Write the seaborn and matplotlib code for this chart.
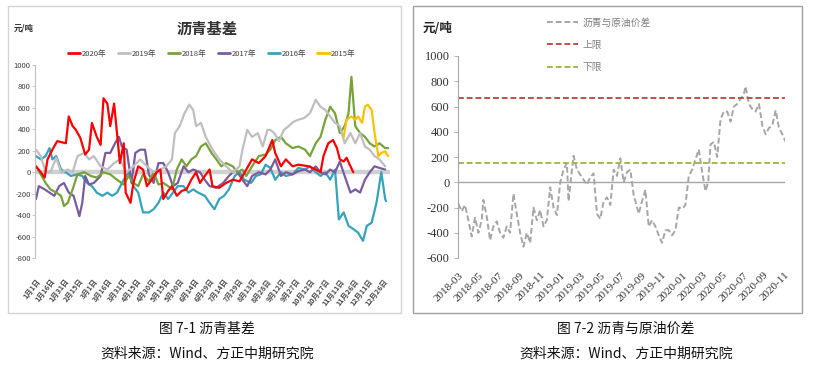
import pandas as pd
import matplotlib
matplotlib.use('Agg')
import matplotlib.pyplot as plt
import matplotlib.dates as mdates
from matplotlib.lines import Line2D
from matplotlib.patches import Rectangle
import seaborn as sns

# ---- left chart: asphalt basis by year (day of year -> yuan/ton) ----
red_day = [0, 5, 9, 12, 17, 22, 31, 34, 38, 41, 46, 51, 55, 58, 63, 67, 70, 74, 77, 81,
           84, 87, 91, 93, 98, 101, 106, 111, 115, 120, 125, 129, 132, 137, 141, 146, 151, 156, 161, 166,
           170, 175, 180, 183, 190, 197, 204, 211, 218, 224, 231, 238, 245, 248, 254, 259, 266, 272, 283, 290,
           295, 298, 303, 308, 312, 315, 319, 322, 326, 329]
red_val = [55, 0, -50, 120, 210, 290, 270, 520, 430, 400, 320, 165, 210, 460, 330, 255, 690, 640, 430, 640,
           365, 85, 270, -190, -285, -100, 55, 25, -130, -70, 0, 25, -250, -175, -130, -220, -175, -160, -70, 0,
           -100, -35, 25, -130, -145, -100, -70, -85, 25, 120, 85, 150, 300, 180, 55, 120, 55, 70, 55, 25,
           0, 150, 270, 300, 225, 120, 100, 135, 55, 0]

gray_day = [0, 5, 10, 15, 21, 26, 33, 38, 43, 50, 55, 60, 67, 74, 81, 87, 94, 101, 108, 115,
            122, 129, 135, 141, 144, 149, 154, 159, 163, 166, 171, 176, 183, 190, 197, 204, 211, 214, 219, 224,
            230, 235, 240, 243, 247, 252, 257, 262, 267, 272, 278, 284, 290, 295, 300, 305, 310, 315, 320, 326,
            331, 336, 341, 346, 351, 356, 362]
gray_val = [210, 150, 0, 0, 135, 0, 25, 0, 150, 180, 120, 150, 55, 25, 85, 120, 0, 55, 120, 55,
            0, 25, 55, 120, 365, 430, 550, 630, 580, 430, 460, 330, 210, 120, 55, 0, 55, 210, 395, 330,
            365, 240, 395, 395, 365, 290, 395, 430, 470, 490, 505, 550, 675, 610, 580, 520, 460, 430, 270, 365,
            270, 365, 240, 210, 150, 120, 55]

green_day = [0, 5, 10, 15, 21, 26, 29, 33, 38, 43, 50, 57, 63, 70, 77, 84, 91, 96, 101, 106,
             111, 117, 122, 127, 132, 137, 141, 146, 151, 156, 161, 166, 171, 176, 182, 187, 192, 197, 204, 209,
             214, 218, 224, 231, 238, 243, 248, 254, 259, 266, 272, 279, 284, 290, 295, 300, 305, 310, 315, 320,
             324, 327, 331, 336, 341, 346, 351, 356, 362, 365]
green_val = [55, -20, -100, -160, -190, -220, -315, -285, -160, -20, 0, -35, -50, 0, -20, -70, -115, -35, -100, -130,
             -20, -85, 0, -115, -100, -130, -160, 25, 120, 55, 120, 150, 240, 270, 180, 120, 55, 85, 55, 0,
             25, -35, 55, 150, 165, 210, 300, 330, 270, 225, 240, 210, 150, 270, 330, 490, 610, 550, 365, 430,
             550, 890, 430, 365, 330, 270, 240, 270, 225, 225]

purple_day = [0, 3, 9, 14, 19, 24, 29, 34, 39, 45, 48, 51, 55, 60, 67, 72, 77, 82, 86, 89,
              94, 99, 103, 108, 113, 117, 122, 127, 132, 137, 142, 147, 153, 158, 163, 170, 175, 180, 187, 194,
              200, 207, 214, 219, 224, 231, 238, 243, 248, 254, 259, 266, 272, 279, 284, 290, 295, 300, 305, 310,
              315, 320, 326, 331, 336, 341, 346, 351, 356, 362]
purple_val = [-250, -130, -160, -190, -220, -130, -100, -190, -220, -410, -285, -35, -115, -100, -35, 180, 180, 270, 330, 240,
              210, -100, 180, 210, 210, -20, -100, 85, 85, 0, -130, -100, 55, 0, 25, 0, -70, -130, -145, -100,
              -35, 25, -70, -130, -35, 0, -20, 25, 120, -35, 0, -20, 10, 25, 0, 55, 0, -20, 25, 0,
              100, -35, -190, -160, -190, -70, 0, 55, 40, 25]

teal_day = [0, 5, 10, 14, 17, 21, 26, 31, 36, 43, 48, 53, 58, 63, 69, 74, 79, 84, 91, 96,
            101, 106, 111, 117, 122, 127, 132, 137, 142, 147, 153, 158, 163, 168, 175, 180, 185, 190, 195, 200,
            206, 211, 216, 223, 228, 233, 238, 243, 248, 254, 259, 266, 272, 279, 284, 290, 295, 300, 305, 310,
            314, 319, 324, 329, 334, 339, 343, 348, 353, 358, 362, 363]
teal_val = [150, 120, 150, 225, 120, 150, 25, 0, -35, -20, -35, -100, -130, -190, -220, -190, -220, -190, -70, 0,
            -130, -190, -375, -375, -345, -285, -190, -250, -190, -130, -130, -190, -160, -190, -220, -285, -345, -250, -220, -160,
            -35, 0, -70, -100, -35, -20, 70, 40, -70, 0, -35, -20, 40, 25, 55, 0, -35, 0, -70, 25,
            -440, -375, -500, -530, -565, -640, -500, -470, -285, 0, -250, -270]

yellow_day = [319, 322, 327, 331, 334, 338, 341, 344, 348, 351, 355, 358, 362, 365]
yellow_val = [330, 490, 520, 490, 520, 460, 610, 630, 580, 365, 150, 180, 195, 150]

years = ['2020年', '2019年', '2018年', '2017年', '2016年', '2015年']
year_colors = ['#ff0000', '#bfbfbf', '#77a33a', '#7b5ba0', '#35a3bd', '#ffc000']

left_ticklabels = ['1月1日', '1月16日', '1月31日', '2月15日', '3月1日', '3月16日', '3月31日', '4月15日',
                   '4月30日', '5月15日', '5月30日', '6月14日', '6月29日', '7月14日', '7月29日', '8月13日',
                   '8月28日', '9月12日', '9月27日', '10月12日', '10月27日', '11月11日', '11月26日',
                   '12月11日', '12月26日']
left_tickdays = [15 * i for i in range(len(left_ticklabels))]

# ---- right chart: asphalt vs crude spread (days since 2018-03-01) ----
spread_day = [0, 10, 20, 30, 40, 50, 60, 70, 75, 85, 95, 105, 115, 125, 135, 145, 155, 165, 175, 185,
              195, 205, 215, 225, 235, 245, 255, 265, 275, 285, 295, 305, 315, 325, 330, 338, 345, 355, 365, 375,
              385, 395, 405, 415, 425, 435, 445, 455, 465, 475, 485, 495, 505, 515, 525, 540, 550, 560, 570, 580,
              590, 600, 610, 620, 630, 640, 650, 660, 670, 680, 690, 700, 710, 720, 730, 740, 748, 755, 765, 775,
              785, 795, 805, 815, 825, 835, 845, 855, 860, 870, 880, 890, 900, 910, 920, 930, 940, 950, 960, 970,
              980]
spread_val = [-170, -230, -180, -300, -430, -280, -400, -300, -140, -270, -460, -350, -310, -400, -440, -350, -400, -90, -250, -400,
              -510, -400, -480, -200, -300, -220, -350, -300, -40, -200, -260, 0, 100, 150, -150, 50, 210, 100, 60, 20,
              -20, 40, 70, -250, -290, -150, -120, -180, 100, 50, 190, 0, 80, 100, -100, -250, -150, -60, -350, -300,
              -350, -420, -480, -380, -380, -420, -380, -200, -210, -180, 50, 100, 180, 260, 80, -70, 0, 300, 320, 200,
              500, 560, 560, 480, 600, 620, 660, 700, 760, 620, 580, 560, 620, 450, 380, 430, 450, 570, 430, 380,
              320]
upper_limit = 665
lower_limit = 155
spread_start = '2018-03-01'

sns.set_theme(style='white')
plt.rcParams['font.family'] = ['Noto Sans CJK SC', 'DejaVu Sans']
plt.rcParams['axes.unicode_minus'] = False

W, H = 817, 376
fig = plt.figure(figsize=(W / 100, H / 100), dpi=100)

# panel frames
fig.add_artist(Rectangle((8 / W, 1 - 313 / H), 393 / W, 307 / H, transform=fig.transFigure,
                         fill=False, ec='#d4d4d4', lw=1))
fig.add_artist(Rectangle((413 / W, 1 - 313 / H), 389 / W, 307 / H, transform=fig.transFigure,
                         fill=False, ec='#a0a0a0', lw=1))

# ---------------- left ----------------
frames = []
for name, d, v in zip(years, [red_day, gray_day, green_day, purple_day, teal_day, yellow_day],
                      [red_val, gray_val, green_val, purple_val, teal_val, yellow_val]):
    frames.append(pd.DataFrame({'day': d, 'value': v, 'year': name}))
basis = pd.concat(frames, ignore_index=True)

ax1 = fig.add_axes([35 / W, 1 - 258 / H, 355 / W, 193 / H])
ax1.axhline(0, color='#d0d0d0', lw=3.2, zorder=0)
draw_order = ['2016年', '2017年', '2018年', '2019年', '2015年', '2020年']
pal = dict(zip(years, year_colors))
for y in draw_order:
    sns.lineplot(data=basis[basis['year'] == y], x='day', y='value', color=pal[y],
                 lw=1.6, sort=False, ax=ax1, legend=False)
ax1.set_xlim(-1, 367)
ax1.set_ylim(-800, 1000)
ax1.set_yticks(range(-800, 1001, 200))
ax1.set_yticklabels([str(v) for v in range(-800, 1001, 200)], fontsize=5.5)
ax1.set_xticks(left_tickdays)
ax1.set_xticklabels(left_ticklabels, rotation=52, ha='right', rotation_mode='anchor',
                    fontsize=5.2, fontweight='bold', color='#4a4a4a')
ax1.set_xlabel('')
ax1.set_ylabel('')
for s in ['top', 'right', 'bottom']:
    ax1.spines[s].set_visible(False)
ax1.spines['left'].set_color('#bfbfbf')
ax1.spines['left'].set_linewidth(0.8)
ax1.tick_params(axis='y', left=True, length=2, width=0.6, color='#bfbfbf', pad=1, labelcolor='#404040')
ax1.tick_params(axis='x', bottom=False, pad=8)

fig.text(207 / W, 1 - 29 / H, '沥青基差', ha='center', va='center', fontsize=11, fontweight='bold', color='#333333')
fig.text(14 / W, 1 - 28 / H, '元/吨', ha='left', va='center', fontsize=6, fontweight='bold', color='#333333')
handles = [Line2D([0], [0], color=c, lw=2) for c in year_colors]
fig.legend(handles, years, loc='center', bbox_to_anchor=(212 / W, 1 - 54 / H), ncol=6, frameon=False,
           fontsize=5.5, handlelength=1.6, handletextpad=0.2, columnspacing=1.5, labelcolor='#404040')

# ---------------- right ----------------
spread = pd.DataFrame({'date': pd.Timestamp(spread_start) + pd.to_timedelta(spread_day, unit='D'),
                       'value': spread_val})
ax2 = fig.add_axes([458 / W, 1 - 258 / H, 327 / W, 202 / H])
ax2.axhline(0, color='#a6a6a6', lw=1, zorder=0)
sns.lineplot(data=spread, x='date', y='value', ax=ax2, color='#a6a6a6', lw=1.4,
             dashes=False, legend=False)
ax2.lines[-1].set_dashes((3, 1.5))
ax2.axhline(upper_limit, color='#c0504d', lw=1.4, dashes=(3, 1.5))
ax2.axhline(lower_limit, color='#9bbb59', lw=1.4, dashes=(3, 1.5))
ax2.set_xlim(pd.Timestamp('2018-02-28'), pd.Timestamp('2020-11-03'))
ax2.set_ylim(-600, 1000)
ax2.set_yticks(range(-600, 1001, 200))
ax2.set_yticklabels([str(v) for v in range(-600, 1001, 200)], fontsize=9, family='Liberation Serif')
ax2.xaxis.set_major_locator(mdates.MonthLocator(bymonth=[1, 3, 5, 7, 9, 11]))
ax2.xaxis.set_major_formatter(mdates.DateFormatter('%Y-%m'))
for lab in ax2.get_xticklabels():
    lab.set_rotation(45)
    lab.set_ha('right')
    lab.set_rotation_mode('anchor')
    lab.set_fontsize(8)
    lab.set_family('Liberation Serif')
ax2.set_xlabel('')
ax2.set_ylabel('')
for s in ['top', 'right', 'bottom']:
    ax2.spines[s].set_visible(False)
ax2.spines['left'].set_color('#a6a6a6')
ax2.spines['left'].set_linewidth(0.8)
ax2.tick_params(axis='y', left=True, length=3, width=0.6, color='#a6a6a6', pad=3, labelcolor='#333333')
ax2.tick_params(axis='x', bottom=False, pad=3, labelcolor='#333333')

fig.text(423 / W, 1 - 28 / H, '元/吨', ha='left', va='center', fontsize=9, fontweight='bold', color='#222222')
r_handles = [Line2D([0], [0], color='#a6a6a6', lw=1.4, dashes=(3, 1.5)),
             Line2D([0], [0], color='#c0504d', lw=1.4, dashes=(3, 1.5)),
             Line2D([0], [0], color='#9bbb59', lw=1.4, dashes=(3, 1.5))]
fig.legend(r_handles, ['沥青与原油价差', '上限', '下限'], loc='upper left', bbox_to_anchor=(538 / W, 1 - 9 / H),
           frameon=False, fontsize=7, handlelength=3.2, handletextpad=0.5, labelspacing=1.25,
           labelcolor='#7f7f7f')

# ---------------- captions ----------------
for cx, title in [(207, '图 7-1 沥青基差'), (626, '图 7-2 沥青与原油价差')]:
    fig.text(cx / W, 1 - 329 / H, title, ha='center', va='center', fontsize=10, color='#111111')
    fig.text(cx / W, 1 - 354 / H, '资料来源：Wind、方正中期研究院', ha='center', va='center',
             fontsize=10, color='#111111')

fig.savefig('out.png', dpi=100)
